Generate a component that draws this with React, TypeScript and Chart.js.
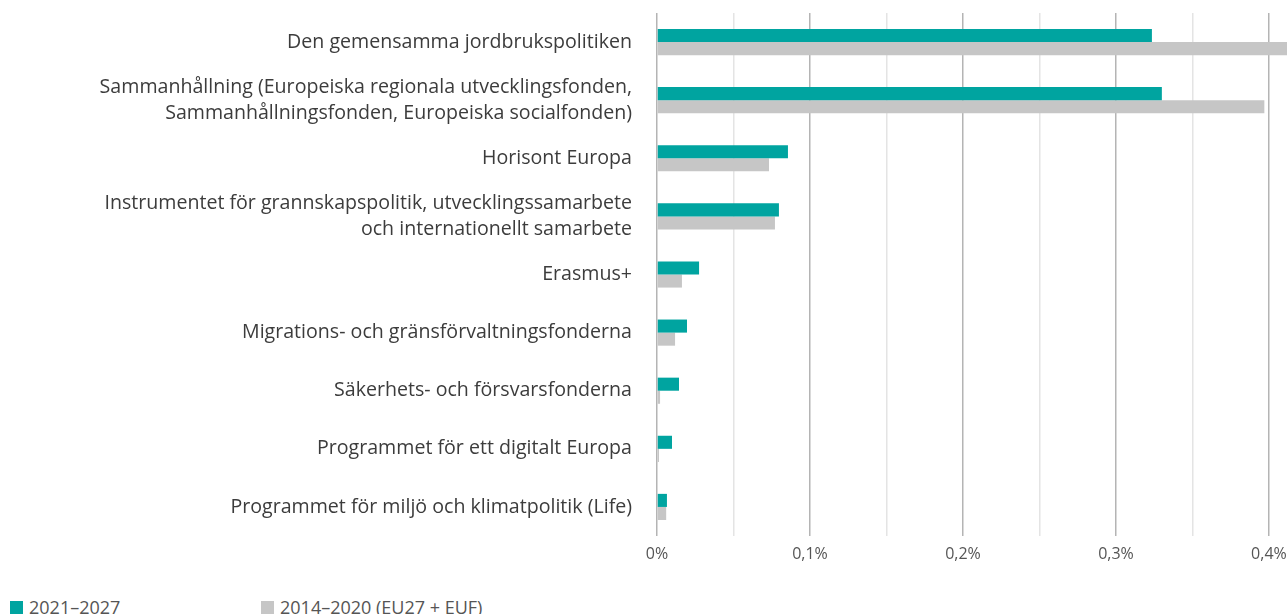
import React, { useEffect, useRef } from "react";
import { Chart, registerables } from "chart.js";

Chart.register(...registerables);

const categories: string[][] = [
  ["Den gemensamma jordbrukspolitiken"],
  ["Sammanhållning (Europeiska regionala utvecklingsfonden,", "Sammanhållningsfonden, Europeiska socialfonden)"],
  ["Horisont Europa"],
  ["Instrumentet för grannskapspolitik, utvecklingssamarbete", "och internationellt samarbete"],
  ["Erasmus+"],
  ["Migrations- och gränsförvaltningsfonderna"],
  ["Säkerhets- och försvarsfonderna"],
  ["Programmet för ett digitalt Europa"],
  ["Programmet för miljö och klimatpolitik (Life)"],
];

const series2021: number[] = [0.3235, 0.330, 0.0856, 0.0797, 0.0275, 0.0196, 0.0144, 0.0098, 0.0065];
const series2014: number[] = [0.415, 0.397, 0.0732, 0.0771, 0.0163, 0.0118, 0.002, 0.0013, 0.006];

const seriesNames: string[] = ["2021–2027", "2014–2020 (EU27 + EUF)"];
const seriesColors: string[] = ["#00a4a0", "#c6c6c6"];

const FONT = "'Open Sans', 'Noto Sans', sans-serif";

export default function App() {
  const ref = useRef<HTMLCanvasElement | null>(null);

  useEffect(() => {
    if (!ref.current) return;
    const chart = new Chart(ref.current, {
      type: "bar",
      data: {
        labels: categories,
        datasets: [
          { label: seriesNames[0], data: series2021, backgroundColor: seriesColors[0], barPercentage: 1, categoryPercentage: 0.45 },
          { label: seriesNames[1], data: series2014, backgroundColor: seriesColors[1], barPercentage: 1, categoryPercentage: 0.45 },
        ],
      },
      options: {
        indexAxis: "y",
        animation: false,
        responsive: false,
        maintainAspectRatio: false,
        layout: { padding: { top: 13, right: 0, left: 0, bottom: 0 } },
        plugins: { legend: { display: false }, tooltip: { enabled: false } },
        scales: {
          x: {
            min: 0,
            max: 0.4118,
            border: { display: false },
            grid: {
              drawTicks: false,
              color: (ctx: any) => {
                const v = ctx.tick ? ctx.tick.value : 0;
                return Math.abs(Math.round(v * 10) - v * 10) < 1e-6 ? "#b4b4b4" : "#e4e4e4";
              },
              lineWidth: 1.5,
            },
            ticks: {
              stepSize: 0.05,
              includeBounds: false,
              padding: 9,
              color: "#555555",
              font: { family: FONT, size: 16 },
              maxRotation: 0,
              autoSkip: false,
              callback: (v: any) => {
                const n = Number(v);
                const r = Math.round(n * 10);
                if (Math.abs(r - n * 10) > 1e-6) return "";
                return r === 0 ? "0%" : "0," + r + "%";
              },
            },
            afterFit: (scale: any) => {
              scale.height = 54;
              scale.paddingLeft = 0;
              scale.paddingRight = 0;
            },
          },
          y: {
            border: { display: false },
            grid: { display: false, drawTicks: false },
            ticks: {
              padding: 25,
              color: "#3c3c3c",
              font: { family: FONT, size: 19.6, lineHeight: 1.33 },
              autoSkip: false,
            },
            afterFit: (scale: any) => {
              scale.width = 657;
              scale.paddingTop = 0;
              scale.paddingBottom = 0;
            },
          },
        },
      },
    });
    return () => chart.destroy();
  }, []);

  return (
    <div style={{ position: "absolute", left: 0, top: 0, width: 1287, overflow: "hidden", fontFamily: FONT }}>
      <canvas ref={ref} width={1287} height={590} style={{ display: "block", width: 1287, height: 590 }} />
      <div style={{ display: "flex", alignItems: "center", marginTop: 7, paddingLeft: 10, fontSize: 18, color: "#555555", lineHeight: "20px" }}>
        {seriesNames.map((n, i) => (
          <div key={n} style={{ display: "flex", alignItems: "center", width: i === 0 ? 251 : 300 }}>
            <span style={{ display: "inline-block", width: 13, height: 13, background: seriesColors[i], marginRight: 6 }} />
            <span>{n}</span>
          </div>
        ))}
      </div>
    </div>
  );
}
